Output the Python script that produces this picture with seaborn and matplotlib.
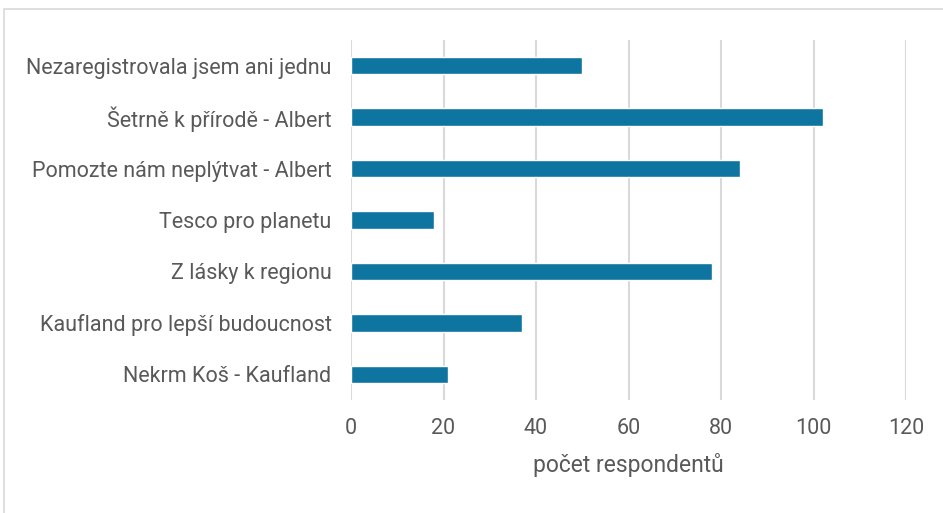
import matplotlib
matplotlib.use("Agg")
import matplotlib.pyplot as plt
import seaborn as sns
import pandas as pd
from matplotlib.patches import Rectangle

categories = [
    "Nezaregistrovala jsem ani jednu",
    "Šetrně k přírodě - Albert",
    "Pomozte nám neplýtvat - Albert",
    "Tesco pro planetu",
    "Z lásky k regionu",
    "Kaufland pro lepší budoucnost",
    "Nekrm Koš - Kaufland",
]
values = [50, 102, 84, 18, 78, 37, 21]
xticks = [0, 20, 40, 60, 80, 100, 120]
xlabel = "počet respondentů"

sns.set_theme(style="white")
plt.rcParams["font.family"] = ["Roboto", "DejaVu Sans"]

df = pd.DataFrame({"cat": categories, "val": values})

fig = plt.figure(figsize=(9.43, 5.13), dpi=100)
W, H = 943, 513
ax = fig.add_axes([351 / W, 1 - 400 / H, (906 - 351) / W, (400 - 40) / H])

sns.barplot(data=df, x="val", y="cat", color="#0E75A0", saturation=1,
            width=0.34, ax=ax, zorder=3)

ax.set_xlim(0, 120)
ax.set_ylim(6.5, -0.5)
ax.set_xticks(xticks)
ax.set_xticklabels([str(t) for t in xticks])
ax.grid(axis="x", color="#D9D9D9", linewidth=1.5, zorder=0)
ax.set_axisbelow(True)
for s in ax.spines.values():
    s.set_visible(False)
ax.tick_params(axis="both", length=0, colors="#595959", labelsize=15.5)
ax.tick_params(axis="x", pad=13)
ax.tick_params(axis="y", pad=14)
ax.set_ylabel("")
ax.set_xlabel(xlabel, color="#595959", fontsize=16.5, labelpad=10)

fig.patches.append(Rectangle((4 / W, -0.1), 2, 1 - 9 / H + 0.1, transform=fig.transFigure,
                             fill=False, edgecolor="#D9D9D9", linewidth=1.2))

fig.savefig("out.png", dpi=100)
